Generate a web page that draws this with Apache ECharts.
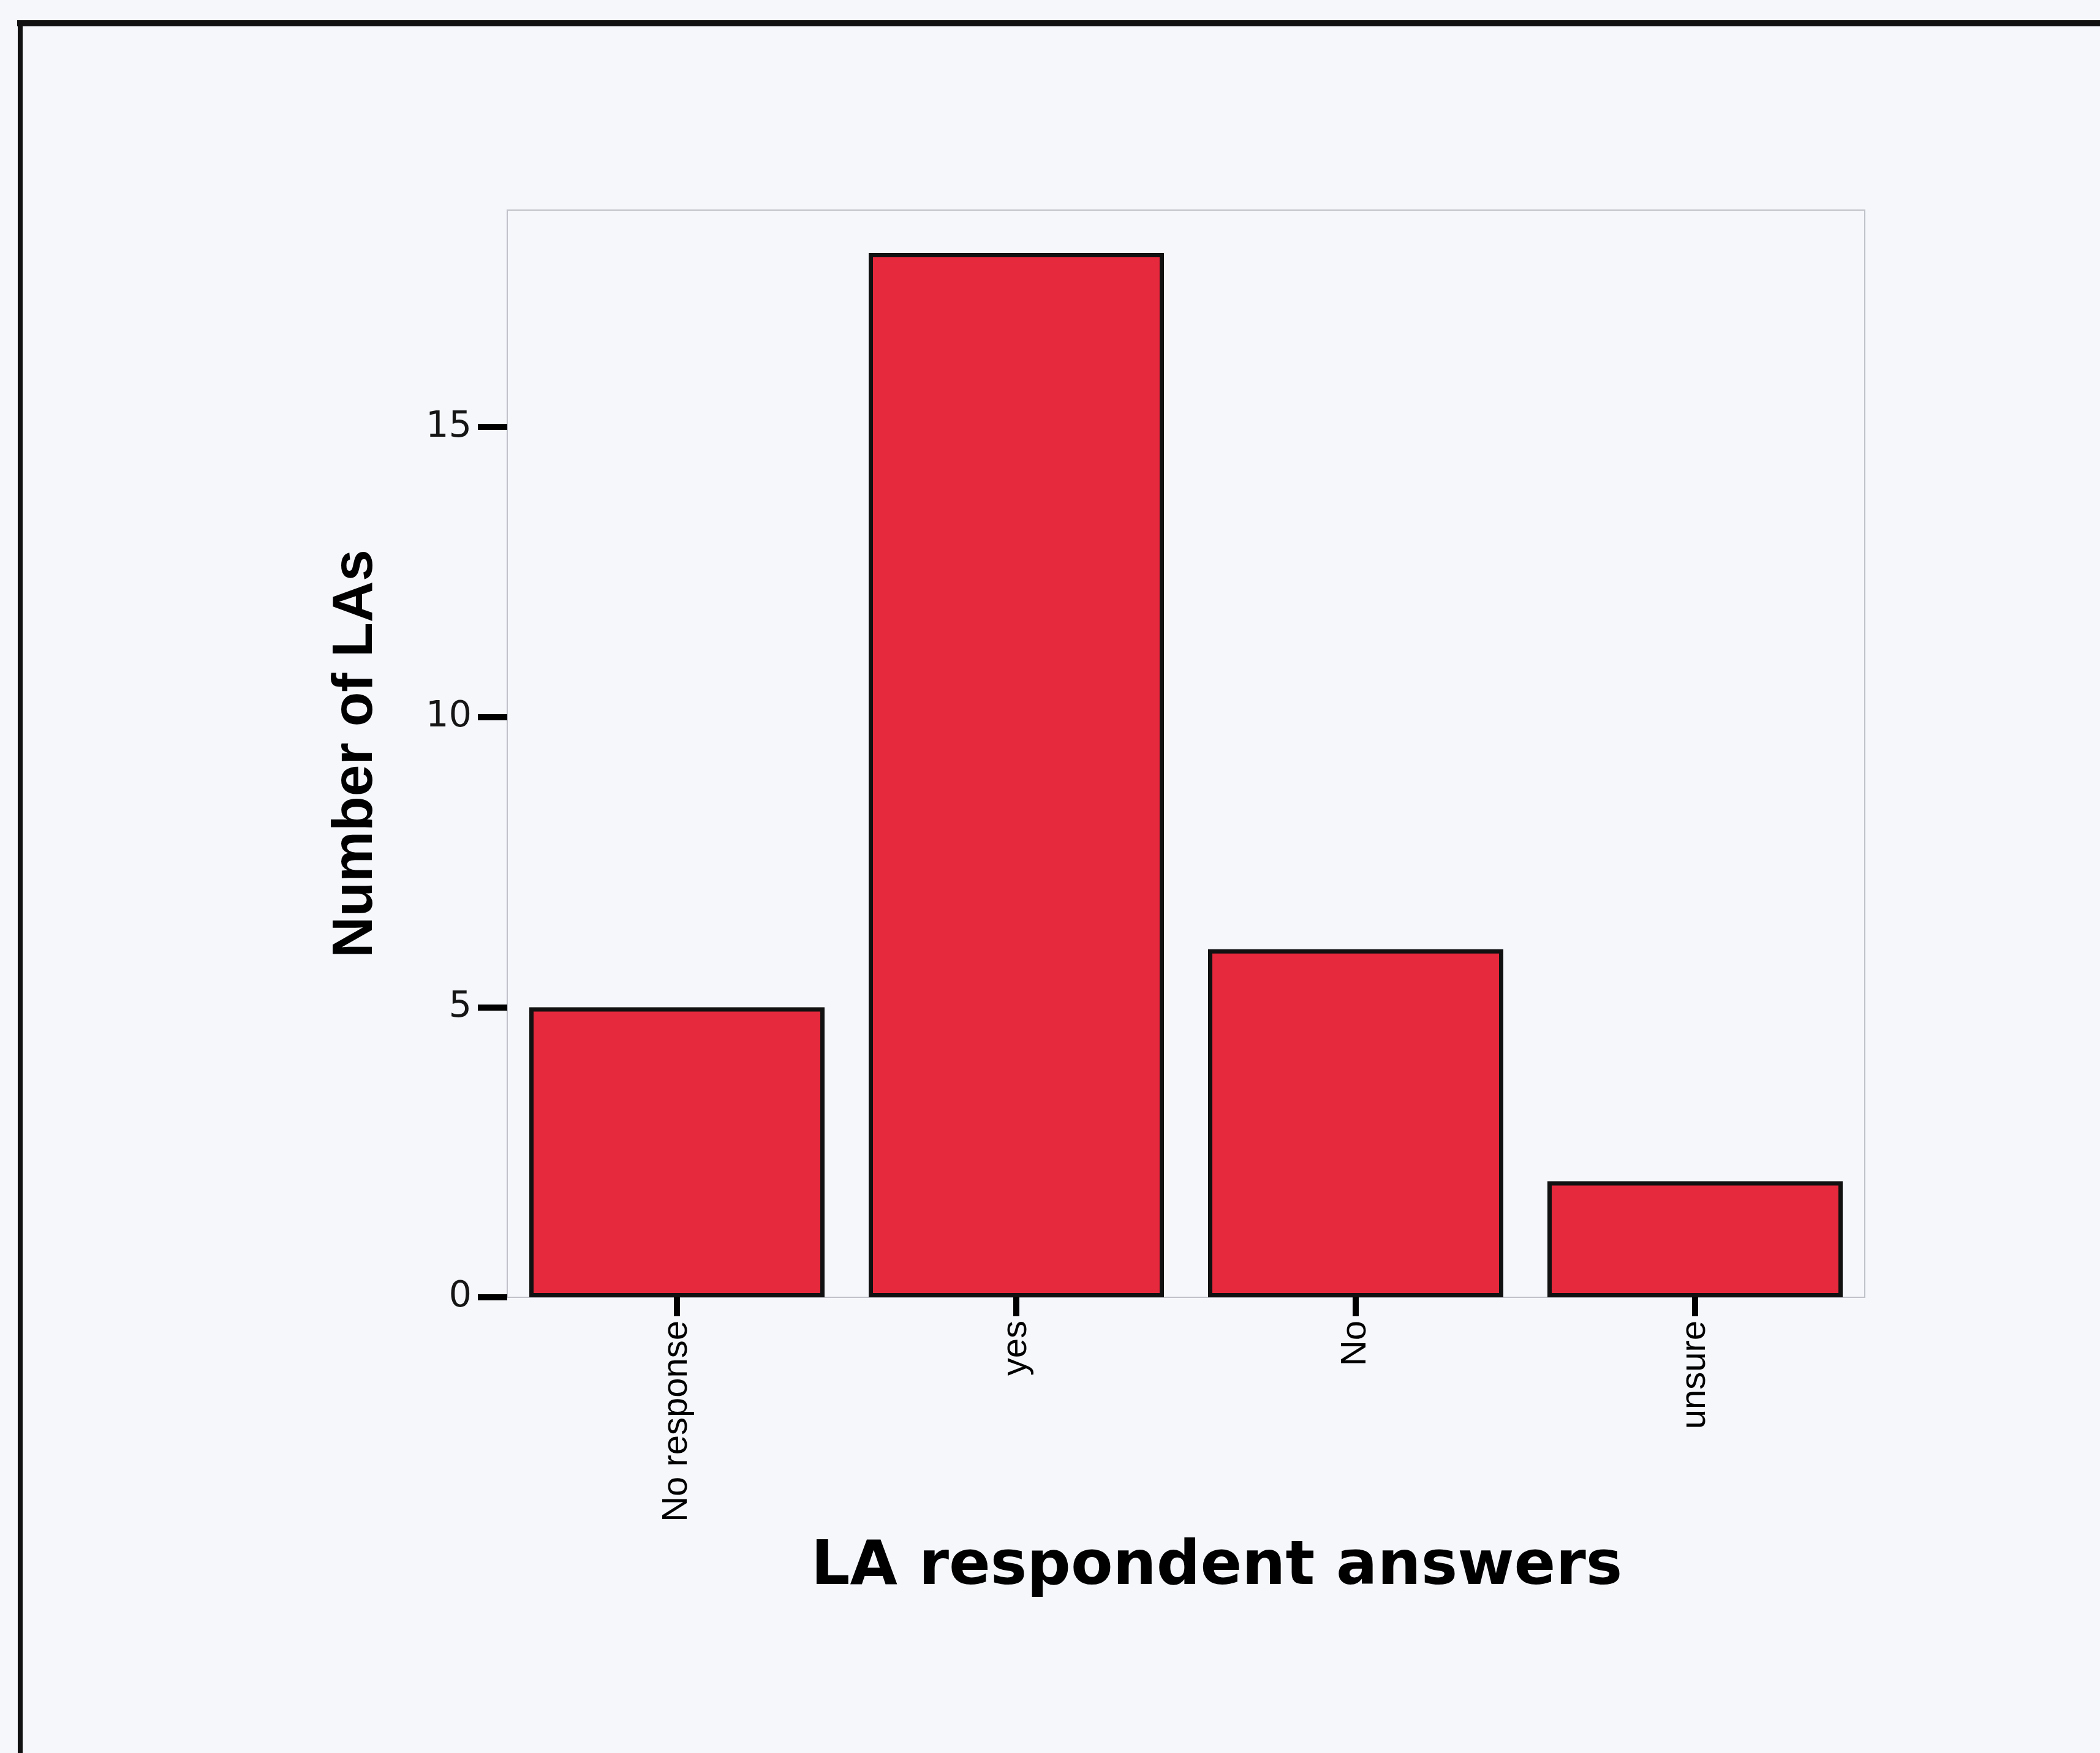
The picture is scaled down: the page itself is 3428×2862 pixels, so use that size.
<!DOCTYPE html>
<html>
<head>
<meta charset="utf-8">
<script src="https://cdn.jsdelivr.net/npm/echarts@6/dist/echarts.min.js"></script>
<style>
html,body{margin:0;padding:0;background:#F5F7FB;}
#chart{width:3428px;height:2862px;}
</style>
</head>
<body>
<div id="chart"></div>
<script>
const categories = ['No response', 'yes', 'No', 'unsure'];
const counts = [5, 18, 6, 2];
const yTicks = [0, 5, 10, 15];
const yMax = 18.74;
const xTitle = 'LA respondent answers';
const yTitle = 'Number of LAs';

const chart = echarts.init(document.getElementById('chart'), null, {renderer: 'canvas'});
chart.setOption({
  backgroundColor: '#F5F7FB',
  animation: false,
  graphic: [
    {type: 'line', shape: {x1: 28, y1: 38, x2: 3428, y2: 38}, style: {stroke: '#111', lineWidth: 10}},
    {type: 'line', shape: {x1: 33, y1: 34, x2: 33, y2: 2862}, style: {stroke: '#111', lineWidth: 8}}
  ],
  grid: {
    left: 828, right: 384, top: 343, bottom: 744,
    show: true, borderColor: '#bfc2c8', borderWidth: 2, backgroundColor: 'transparent'
  },
  xAxis: {
    type: 'category',
    data: categories,
    name: xTitle,
    nameLocation: 'middle',
    nameGap: 392,
    nameTextStyle: {fontFamily: 'DejaVu Sans', fontWeight: 'bold', fontSize: 100, color: '#000', padding: [0, 0, 0, 100]},
    axisLine: {show: false},
    axisTick: {show: true, alignWithLabel: true, length: 31, lineStyle: {color: '#000', width: 10}},
    axisLabel: {rotate: 90, margin: 38, fontFamily: 'Liberation Sans', fontSize: 58, color: '#000'},
    splitLine: {show: false}
  },
  yAxis: {
    type: 'value',
    min: 0,
    max: yMax,
    interval: 5,
    name: yTitle,
    nameLocation: 'middle',
    nameGap: 200,
    nameTextStyle: {fontFamily: 'Liberation Sans', fontWeight: 'bold', fontSize: 93, color: '#000'},
    axisLine: {show: false},
    axisTick: {show: true, length: 48, customValues: yTicks, lineStyle: {color: '#000', width: 10}},
    axisLabel: {margin: 58, customValues: yTicks, fontFamily: 'DejaVu Sans', fontSize: 59, color: '#151515'},
    splitLine: {show: false}
  },
  series: [{
    type: 'bar',
    data: counts,
    barCategoryGap: '13%',
    itemStyle: {color: '#E6293C', borderColor: '#111', borderWidth: 7}
  }]
});
</script>
</body>
</html>
